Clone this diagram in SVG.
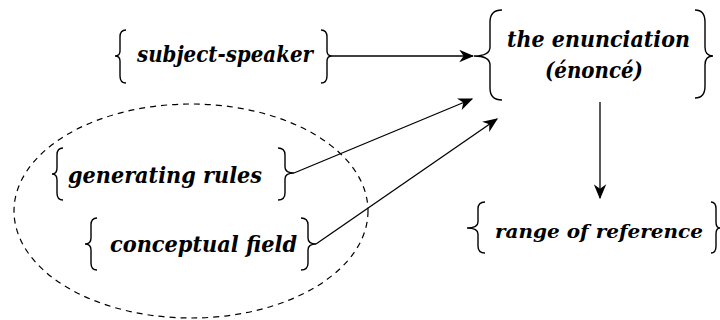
<svg xmlns="http://www.w3.org/2000/svg" width="720" height="320" viewBox="0 0 720 320">
<style>
.t{font-family:"DejaVu Serif","Liberation Serif",serif;font-style:italic;font-weight:bold;font-size:23px;fill:#000}
.b{fill:none;stroke:#000;stroke-width:1.4}
.c{fill:none;stroke:#000;stroke-width:1.3}
</style>
<defs>
<marker id="ah" viewBox="0 0 12 10" refX="11" refY="5" markerWidth="15" markerHeight="13" markerUnits="userSpaceOnUse" orient="auto">
<path d="M0,0 L12,5 L0,10 L3.5,5 z" fill="#000"/>
</marker>
</defs>
<rect width="720" height="320" fill="#fff"/>
<g id="ellipse">
<ellipse cx="191" cy="211" rx="177" ry="107" fill="none" stroke="#000" stroke-width="1.2" stroke-dasharray="6,5"/>
</g>
<g id="connectors">
<line class="c" x1="332" y1="56" x2="473" y2="56" marker-end="url(#ah)"/>
<line class="c" x1="294" y1="173" x2="472" y2="99" marker-end="url(#ah)"/>
<line class="c" x1="316" y1="244" x2="497" y2="119" marker-end="url(#ah)"/>
<line class="c" x1="600" y1="102" x2="600" y2="198" marker-end="url(#ah)"/>
</g>
<g id="subject-speaker">
<path class="b" d="M126,30 Q120,30 120,37 L120,51 Q120,56 115,56 Q120,56 120,61 L120,76 Q120,83 126,83"/>
<text class="t" x="137" y="62" textLength="176" lengthAdjust="spacingAndGlyphs">subject-speaker</text>
<path class="b" d="M321,30 Q327,30 327,37 L327,51 Q327,56 332,56 Q327,56 327,61 L327,76 Q327,83 321,83"/>
</g>
<g id="enunciation">
<path class="b" d="M502,10 Q490,10 490,22 L490,47 Q490,56 474,56 Q490,56 490,65 L490,88 Q490,100 502,100"/>
<text class="t" x="507" y="47" textLength="183" lengthAdjust="spacingAndGlyphs">the enunciation</text>
<text class="t" x="545" y="78" textLength="98" lengthAdjust="spacingAndGlyphs">(énoncé)</text>
<path class="b" d="M695,10 Q705,10 705,22 L705,47 Q705,56 713,56 Q705,56 705,65 L705,86 Q705,98 695,98"/>
</g>
<g id="generating-rules">
<path class="b" d="M63,148 Q57,148 57,155 L57,168 Q57,174 52,174 Q57,174 57,180 L57,193 Q57,200 63,200"/>
<text class="t" x="68" y="183" textLength="194" lengthAdjust="spacingAndGlyphs">generating rules</text>
<path class="b" d="M278,148 Q285,148 285,155 L285,167 Q285,173 294,173 Q285,173 285,179 L285,193 Q285,200 278,200"/>
</g>
<g id="conceptual-field">
<path class="b" d="M97,218 Q91,218 91,225 L91,238 Q91,244 85,244 Q91,244 91,250 L91,263 Q91,270 97,270"/>
<text class="t" x="110" y="252" textLength="187" lengthAdjust="spacingAndGlyphs">conceptual field</text>
<path class="b" d="M301,218 Q308,218 308,225 L308,238 Q308,244 316,244 Q308,244 308,250 L308,263 Q308,270 301,270"/>
</g>
<g id="range-of-reference">
<path class="b" d="M485,202 Q478,202 478,209 L478,222 Q478,228 467,228 Q478,228 478,234 L478,246 Q478,253 485,253"/>
<text class="t" x="495" y="238" style="font-size:19px" textLength="208" lengthAdjust="spacingAndGlyphs">range of reference</text>
<path class="b" d="M711,202 Q716,202 716,209 L716,222 Q716,228 720,228 Q716,228 716,234 L716,246 Q716,253 711,253"/>
</g>
</svg>
